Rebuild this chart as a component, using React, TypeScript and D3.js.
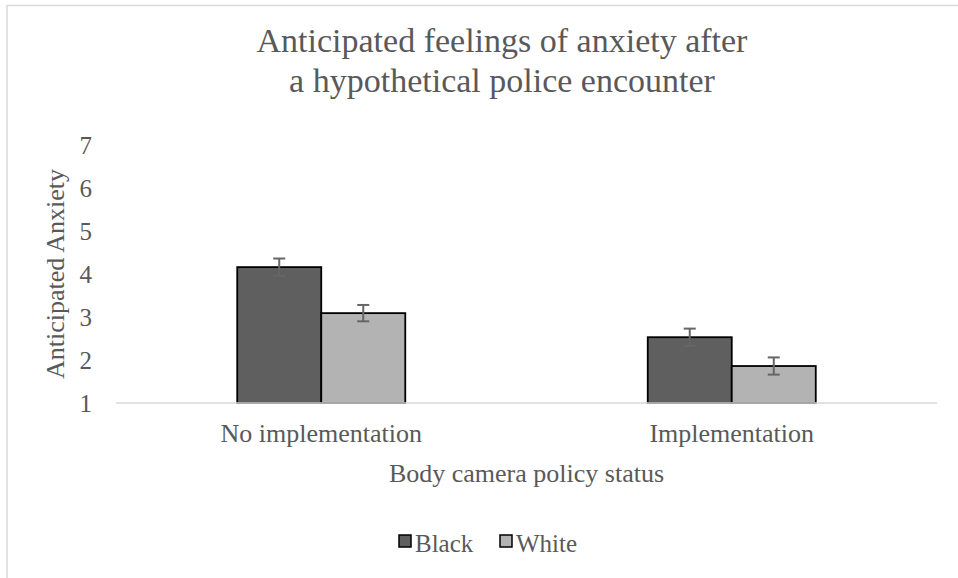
import React from "react";
import * as d3 from "d3";

const categories = ["No implementation", "Implementation"];
const seriesNames = ["Black", "White"];
const blackMeans = [4.16, 2.53];
const whiteMeans = [3.09, 1.86];
const blackErr = [0.2, 0.2];
const whiteErr = [0.19, 0.2];
const yTicks = [1, 2, 3, 4, 5, 6, 7];
const titleLines = ["Anticipated feelings of anxiety after", "a hypothetical police encounter"];

const W = 958;
const H = 578;
const FONT = "Liberation Serif";
const TXT = "#595959";
const fills = ["#5f5f5f", "#b3b3b3"];

export default function App() {
  const plotL = 116, plotR = 937, plotT = 145, plotB = 403;
  const y = d3.scaleLinear().domain([1, 7]).range([plotB, plotT]);
  const x = d3.scaleBand<string>().domain(categories).range([plotL, plotR]).paddingInner(0).paddingOuter(0);
  const xs = d3.scaleBand<string>().domain(seriesNames).range([0, x.bandwidth()]).paddingInner(0).paddingOuter(1.443);
  const values = [blackMeans, whiteMeans];
  const errs = [blackErr, whiteErr];

  return (
    <div style={{ position: "absolute", left: 0, top: 0, width: W, height: H, fontFamily: FONT }}>
      <svg width={W} height={H} style={{ display: "block", fontFamily: FONT }}>
        <style>{`.t { font-family: "Liberation Serif", serif; fill: ${TXT}; }`}</style>
        <rect x={0} y={0} width={W} height={H} fill="#fff" />
        <rect x={7} y={5.5} width={W + 20} height={H + 20} fill="#fff" stroke="#d9d9d9" strokeWidth={1.5} />
        {titleLines.map((t, i) => (
          <text key={i} className="t" x={502} y={52 + i * 40} textAnchor="middle" fontSize={34}>{t}</text>
        ))}
        {yTicks.map((t) => (
          <text key={t} className="t" x={92} y={y(t)} dy="0.34em" textAnchor="end" fontSize={25}>{t}</text>
        ))}
        <text className="t" transform={`translate(64,${(plotT + plotB) / 2}) rotate(-90)`} textAnchor="middle" fontSize={26}>Anticipated Anxiety</text>
        {categories.map((c, ci) => (
          <g key={c}>
            {seriesNames.map((s, si) => {
              const bx = (x(c) as number) + (xs(s) as number);
              const bw = xs.bandwidth();
              const v = values[si][ci];
              const e = errs[si][ci];
              const cx = bx + bw / 2;
              return (
                <g key={s}>
                  <rect x={bx} y={y(v)} width={bw} height={plotB - y(v)} fill={fills[si]} stroke="#000" strokeWidth={1.8} />
                  <line x1={cx} x2={cx} y1={y(v + e)} y2={y(v - e)} stroke="#666" strokeWidth={2} />
                  <line x1={cx - 6} x2={cx + 6} y1={y(v + e)} y2={y(v + e)} stroke="#666" strokeWidth={2} />
                  <line x1={cx - 6} x2={cx + 6} y1={y(v - e)} y2={y(v - e)} stroke="#666" strokeWidth={2} />
                </g>
              );
            })}
            <text className="t" x={(x(c) as number) + x.bandwidth() / 2} y={442} textAnchor="middle" fontSize={26}>{c}</text>
          </g>
        ))}
        <line x1={plotL} x2={plotR} y1={plotB} y2={plotB} stroke="#d9d9d9" strokeWidth={1.5} />
        <text className="t" x={(plotL + plotR) / 2} y={482} textAnchor="middle" fontSize={26}>Body camera policy status</text>
        {seriesNames.map((s, si) => {
          const lx = [399, 500][si];
          return (
            <g key={s}>
              <rect x={lx} y={535} width={12} height={12} fill={fills[si]} stroke="#000" strokeWidth={1.5} />
              <text className="t" x={lx + 16} y={552} fontSize={25}>{s}</text>
            </g>
          );
        })}
      </svg>
    </div>
  );
}
